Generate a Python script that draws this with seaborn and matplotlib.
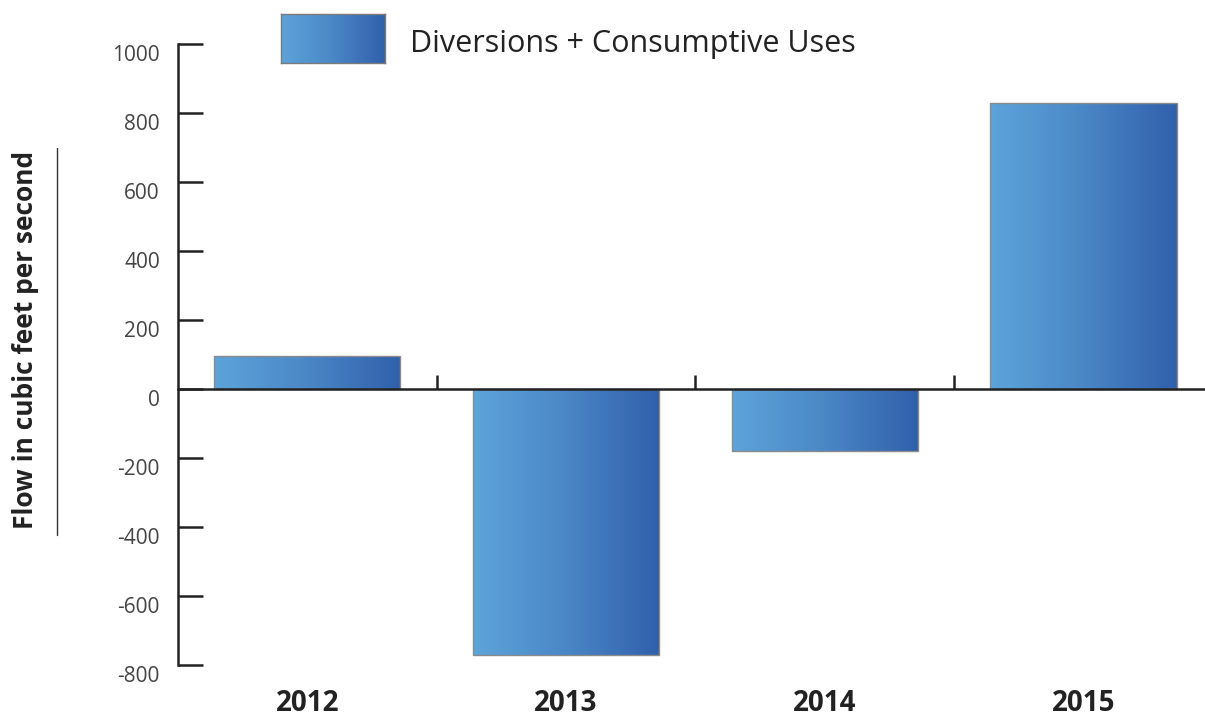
import numpy as np
import pandas as pd
import matplotlib
matplotlib.use("Agg")
import matplotlib.pyplot as plt
import matplotlib.transforms as mtransforms
from matplotlib.colors import LinearSegmentedColormap
from matplotlib.lines import Line2D
import seaborn as sns

# Annual change in flow (cfs)
years = ["2012", "2013", "2014", "2015"]
flow_cfs = [95, -770, -180, 830]
y_ticks = [-800, -600, -400, -200, 0, 200, 400, 600, 800, 1000]
series_name = "Diversions + Consumptive Uses"
y_label = "Flow in cubic feet per second"

sns.set_theme(style="white")
plt.rcParams["font.family"] = ["Open Sans", "DejaVu Sans"]

W, H = 1205, 717
fig = plt.figure(figsize=(W / 100, H / 100), dpi=100)
ax = fig.add_axes([178 / W, 1 - 665 / H, 1 - 178 / W, (665 - 44) / H])

df = pd.DataFrame({"year": years, "flow": flow_cfs})
sns.barplot(data=df, x="year", y="flow", ax=ax, width=0.72, color="#4a86c8",
            saturation=1, edgecolor="#8a8a8a", linewidth=1.0, zorder=3)

cmap = LinearSegmentedColormap.from_list("blue_grad", ["#5da4da", "#4a87c6", "#3060ab"])
grad = np.linspace(0, 1, 256).reshape(1, -1)

for bar in ax.patches:
    x0, y0 = bar.get_x(), bar.get_y()
    w, h = bar.get_width(), bar.get_height()
    im = ax.imshow(grad, cmap=cmap, aspect="auto", interpolation="bilinear",
                   extent=[x0, x0 + w, min(y0, y0 + h), max(y0, y0 + h)], zorder=2)
    im.set_clip_path(bar)
    bar.set_facecolor("none")

ax.set_xlim(-0.5, 3.47)
ax.set_ylim(-800, 1000)
ax.set_aspect("auto")

# axes styling
for side in ("top", "right"):
    ax.spines[side].set_visible(False)
ax.spines["left"].set_color("#222222")
ax.spines["left"].set_linewidth(1.8)
ax.spines["bottom"].set_position(("data", 0))
ax.spines["bottom"].set_color("#222222")
ax.spines["bottom"].set_linewidth(1.8)
ax.spines["bottom"].set_zorder(4)

ax.set_yticks(y_ticks)
ax.set_yticklabels([str(v) for v in y_ticks])
ax.tick_params(axis="y", direction="in", length=18, width=1.8, color="#222222",
               pad=13, labelsize=15, labelcolor="#444444", left=True)
ax.set_xticks(range(len(years)))
ax.set_xticklabels([])
ax.tick_params(axis="x", which="major", length=0)
ax.set_xticks([0.5, 1.5, 2.5], minor=True)
ax.tick_params(axis="x", which="minor", direction="in", length=10, width=1.8,
               color="#222222", bottom=True)
ax.set_xlabel("")
ax.set_ylabel("")

# year labels under the plot
trans = mtransforms.blended_transform_factory(ax.transData, ax.transAxes)
for i, yr in enumerate(years):
    ax.text(i, -0.062, yr, transform=trans, ha="center", va="center",
            fontsize=20, fontweight="bold", color="#222222")

# nudge y tick labels slightly downward
offset = mtransforms.ScaledTranslation(0, -0.09, fig.dpi_scale_trans)
for lab in ax.get_yticklabels():
    lab.set_transform(lab.get_transform() + offset)

# y axis title with underline
fig.text(26 / W, 1 - 340 / H, y_label, rotation=90, ha="center", va="center",
         fontsize=19, fontweight="bold", color="#222222")
fig.add_artist(Line2D([57 / W, 57 / W], [1 - 148 / H, 1 - 535 / H],
                      transform=fig.transFigure, color="#333333", lw=1))

# legend swatch and label
lax = fig.add_axes([281 / W, 1 - 63 / H, 104 / W, 49 / H])
lax.imshow(grad, cmap=cmap, aspect="auto", interpolation="bilinear")
lax.set_xticks([])
lax.set_yticks([])
for sp in lax.spines.values():
    sp.set_color("#7a7a7a")
    sp.set_linewidth(1)
fig.text(410 / W, 1 - 44 / H, series_name, ha="left", va="center",
         fontsize=22, color="#222222")

fig.savefig("out.png", dpi=100)
